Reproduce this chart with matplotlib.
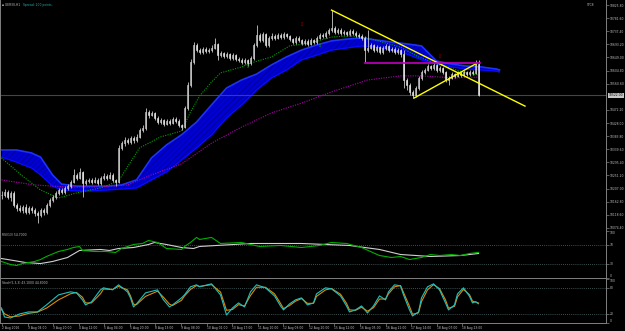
import numpy as np
import matplotlib.pyplot as plt
import matplotlib.transforms as mtransforms

# GER30 H1 bars (open of each bar = previous close)
closes = [10185, 10195, 10178, 10192, 10151, 10141, 10134, 10145, 10128, 10141,
          10134, 10124, 10118, 10134, 10128, 10151, 10168, 10178, 10192, 10202,
          10195, 10209, 10215, 10229, 10253, 10242, 10263, 10226, 10232, 10236,
          10229, 10236, 10226, 10242, 10249, 10242, 10253, 10236, 10229, 10344,
          10360, 10371, 10364, 10377, 10371, 10381, 10404, 10411, 10465, 10455,
          10462, 10445, 10431, 10438, 10425, 10435, 10428, 10441, 10435, 10421,
          10414, 10479, 10556, 10634, 10691, 10674, 10668, 10678, 10671, 10674,
          10681, 10695, 10657, 10664, 10654, 10661, 10647, 10657, 10644, 10641,
          10634, 10641, 10630, 10647, 10691, 10725, 10708, 10728, 10691, 10715,
          10722, 10715, 10725, 10718, 10728, 10722, 10711, 10701, 10715, 10708,
          10698, 10705, 10695, 10708, 10701, 10715, 10725, 10722, 10732, 10742,
          10749, 10735, 10742, 10732, 10735, 10728, 10738, 10732, 10725, 10722,
          10715, 10674, 10681, 10691, 10674, 10684, 10668, 10681, 10688, 10674,
          10678, 10668, 10674, 10661, 10573, 10556, 10533, 10522, 10546, 10580,
          10600, 10607, 10620, 10614, 10624, 10607, 10614, 10600, 10573, 10580,
          10593, 10587, 10597, 10590, 10600, 10593, 10600, 10597, 10627, 10522]
highs = [10198, 10205, 10201, 10199, 10197, 10158, 10150, 10152, 10154, 10149,
         10147, 10140, 10131, 10140, 10142, 10158, 10175, 10186, 10199, 10210,
         10209, 10216, 10222, 10236, 10272, 10260, 10276, 10266, 10240, 10244,
         10242, 10245, 10241, 10250, 10258, 10255, 10262, 10258, 10240, 10354,
         10368, 10380, 10377, 10385, 10383, 10390, 10412, 10420, 10479, 10472,
         10470, 10466, 10450, 10446, 10442, 10441, 10440, 10448, 10447, 10440,
         10426, 10486, 10565, 10644, 10701, 10698, 10681, 10686, 10684, 10682,
         10690, 10715, 10699, 10672, 10669, 10668, 10665, 10663, 10661, 10650,
         10646, 10648, 10645, 10654, 10698, 10759, 10730, 10736, 10732, 10722,
         10730, 10727, 10732, 10731, 10735, 10733, 10726, 10715, 10722, 10720,
         10713, 10712, 10710, 10716, 10713, 10722, 10733, 10730, 10740, 10750,
         10809, 10755, 10748, 10747, 10742, 10740, 10745, 10744, 10737, 10731,
         10728, 10720, 10742, 10698, 10696, 10690, 10688, 10687, 10695, 10692,
         10685, 10683, 10681, 10678, 10674, 10580, 10562, 10540, 10552, 10588,
         10608, 10615, 10628, 10625, 10632, 10628, 10621, 10618, 10604, 10586,
         10600, 10598, 10604, 10602, 10607, 10605, 10607, 10606, 10641, 10641]
lows = [10172, 10180, 10170, 10165, 10144, 10131, 10127, 10125, 10120, 10122,
        10126, 10115, 10091, 10110, 10118, 10121, 10145, 10160, 10172, 10186,
        10188, 10190, 10203, 10210, 10224, 10236, 10238, 10178, 10219, 10225,
        10221, 10224, 10218, 10220, 10236, 10235, 10238, 10230, 10215, 10226,
        10338, 10352, 10356, 10358, 10362, 10365, 10376, 10398, 10406, 10446,
        10450, 10438, 10424, 10425, 10417, 10420, 10421, 10424, 10428, 10414,
        10404, 10410, 10472, 10550, 10628, 10666, 10660, 10662, 10663, 10665,
        10668, 10676, 10641, 10650, 10646, 10648, 10640, 10641, 10637, 10634,
        10626, 10628, 10620, 10624, 10642, 10686, 10700, 10702, 10684, 10686,
        10709, 10708, 10710, 10711, 10712, 10714, 10704, 10694, 10696, 10700,
        10690, 10692, 10687, 10690, 10694, 10696, 10710, 10714, 10716, 10726,
        10736, 10728, 10729, 10725, 10726, 10721, 10722, 10725, 10718, 10715,
        10708, 10634, 10668, 10676, 10666, 10667, 10660, 10662, 10675, 10666,
        10668, 10660, 10661, 10652, 10546, 10540, 10522, 10512, 10515, 10540,
        10574, 10594, 10602, 10606, 10608, 10600, 10601, 10592, 10565, 10556,
        10575, 10580, 10582, 10584, 10585, 10587, 10588, 10590, 10592, 10518]

# blue ribbon edges (projected a few bars ahead of price)
band_idx = [0, 5, 10, 13, 17, 20, 25, 30, 35, 40, 45, 50, 55, 60, 65, 70, 75, 80,
            85, 90, 95, 100, 105, 110, 115, 120, 125, 130, 135, 140, 145, 150, 155, 160, 165, 166]
band_top = [10337, 10337, 10327, 10313, 10253, 10222, 10215, 10215, 10215, 10219,
            10236, 10310, 10354, 10388, 10431, 10489, 10546, 10573, 10593, 10624,
            10651, 10674, 10691, 10705, 10711, 10715, 10708, 10701, 10695, 10688,
            10637, 10627, 10620, 10617, 10610, 10607]
band_bot = [10313, 10296, 10276, 10253, 10215, 10202, 10199, 10199, 10202, 10205,
            10209, 10236, 10263, 10303, 10344, 10388, 10445, 10489, 10539, 10580,
            10607, 10641, 10657, 10674, 10681, 10688, 10684, 10674, 10661, 10641,
            10627, 10617, 10610, 10607, 10603, 10600]

fast_ma_idx = [0, 7, 13, 19, 25, 33, 39, 42, 46, 53, 60, 63, 66, 70, 73, 80, 83, 90,
               96, 103, 110, 116, 122, 133, 139, 146, 155, 159]
fast_ma = [10310, 10249, 10202, 10175, 10192, 10209, 10232, 10280, 10344, 10381,
           10401, 10465, 10519, 10566, 10597, 10617, 10630, 10651, 10688, 10698,
           10718, 10722, 10715, 10684, 10651, 10624, 10597, 10590]
slow_ma_idx = [0, 11, 22, 33, 42, 50, 60, 70, 80, 90, 100, 110, 116, 122, 133, 140, 151, 159]
slow_ma = [10236, 10219, 10212, 10212, 10219, 10253, 10290, 10360, 10414, 10462,
           10495, 10533, 10553, 10573, 10587, 10587, 10580, 10583]

# drawn objects
trend_a_idx = [110, 174.5]
trend_a_px = [10809, 10485]
trend_b_idx = [137.5, 158]
trend_b_px = [10512, 10627]
level_idx = [121, 159.5]
level_px = 10630
sell_idx = [100, 146]
sell_px = [10759, 10651]
buy_idx = [82, 106]
buy_px = [10617, 10691]

# RSI(13) and its signal
rsi_idx = [0, 3, 5, 7, 11, 13, 15, 19, 22, 24, 26, 27, 31, 35, 38, 40, 44, 47, 49, 52,
           55, 60, 61, 63, 65, 66, 70, 73, 80, 86, 93, 100, 106, 110, 115, 120, 123, 126,
           130, 133, 136, 140, 143, 146, 150, 153, 156, 159]
rsi = [34.8, 28.3, 26.1, 30.4, 34.8, 39.1, 45.7, 56.5, 60.9, 65.2,
       67.4, 58.7, 56.5, 56.5, 54.3, 63.0, 71.7, 73.9, 80.4, 76.1,
       63.0, 60.9, 67.4, 76.1, 87.0, 82.6, 87.0, 73.9, 76.1, 67.4,
       69.6, 65.2, 69.6, 76.1, 73.9, 65.2, 56.5, 47.8, 43.5, 45.7,
       39.1, 43.5, 50.0, 47.8, 50.0, 47.8, 52.2, 54.7]
rsi_sig_idx = [0, 4, 8, 13, 17, 22, 26, 33, 36, 39, 44, 49, 51, 55, 60, 64, 66, 83,
               100, 116, 126, 133, 143, 153, 159]
rsi_sig = [41.3, 37.0, 32.6, 30.4, 34.8, 43.5, 58.7, 60.9, 58.7, 63.0,
           65.2, 71.7, 76.1, 71.7, 65.2, 63.0, 67.4, 73.9, 73.9, 69.6,
           60.9, 50.0, 45.7, 47.8, 52.2]

# Stochastic(5,3,3)
stoch_idx = [0, 1, 3, 6, 9, 12, 15, 19, 23, 25, 27, 28, 30, 33, 34, 37, 39, 42, 43, 44,
             45, 48, 52, 54, 56, 57, 60, 61, 63, 65, 66, 70, 73, 75, 77, 79, 81, 83, 85, 88,
             91, 93, 94, 96, 98, 100, 102, 104, 105, 108, 110, 113, 115, 116, 118, 120, 122,
             124, 126, 128, 129, 131, 133, 134, 136, 137, 139, 140, 142, 144, 146, 148, 149,
             151, 152, 154, 156, 157, 158, 159]
stoch_k = [33.5, 12.7, 10.4, 19.6, 24.3, 24.3, 40.4, 63.5, 70.5, 68.1,
           52.0, 40.4, 47.4, 75.1, 79.7, 75.1, 86.6, 70.5, 56.6, 35.8,
           42.7, 68.1, 75.1, 52.0, 35.8, 40.4, 56.6, 63.5, 82.0, 86.6,
           82.0, 88.9, 63.5, 17.3, 33.5, 45.0, 35.8, 70.5, 86.6, 79.7,
           61.2, 38.1, 28.9, 42.7, 52.0, 56.6, 40.4, 45.0, 65.8, 79.7,
           77.4, 61.2, 38.1, 24.3, 28.9, 38.1, 21.9, 38.1, 61.2, 52.0,
           70.5, 86.6, 84.3, 63.5, 28.9, 15.0, 24.3, 56.6, 82.0, 88.9,
           75.1, 45.0, 28.9, 40.4, 65.8, 79.7, 60.0, 45.0, 48.0, 43.1]
stoch_d = [30.0, 20.0, 13.0, 15.0, 21.0, 24.0, 33.0, 52.0, 66.0, 69.0,
           58.0, 45.0, 45.0, 66.0, 77.0, 76.0, 83.0, 75.0, 61.0, 42.0,
           41.0, 60.0, 72.0, 58.0, 42.0, 39.0, 51.0, 61.0, 76.0, 85.0,
           83.0, 87.0, 70.0, 28.0, 30.0, 41.0, 38.0, 62.0, 81.0, 81.0,
           66.0, 44.0, 32.0, 39.0, 49.0, 55.0, 44.0, 44.0, 60.0, 75.0,
           78.0, 65.0, 44.0, 29.0, 28.0, 35.0, 26.0, 34.0, 54.0, 54.0,
           66.0, 82.0, 85.0, 69.0, 37.0, 19.0, 22.0, 48.0, 75.0, 87.0,
           78.0, 52.0, 33.0, 37.0, 59.0, 76.0, 64.0, 49.0, 47.0, 44.8]

# price scale labels (the one under the bid box is hidden by it)
price_ticks = [10825.8, 10781.6, 10737.4, 10693.2, 10649.0, 10604.8, 10560.6, 10472.2,
               10428.0, 10383.8, 10339.6, 10295.4, 10251.2, 10207.0, 10162.8, 10118.6, 10074.4]
time_labels = ['2 Aug 2016', '3 Aug 04:00', '3 Aug 20:00', '4 Aug 12:00', '5 Aug 04:00',
               '5 Aug 20:00', '8 Aug 13:00', '9 Aug 08:00', '10 Aug 01:00', '10 Aug 17:00',
               '11 Aug 10:00', '12 Aug 03:00', '12 Aug 20:00', '15 Aug 12:00', '16 Aug 05:00',
               '16 Aug 21:00', '17 Aug 14:00', '18 Aug 07:00', '18 Aug 23:00']

W, H = 625, 331
AX_COL = '#808080'
TXT = '#c0c0c0'
FS = 2.2

plt.rcParams['hatch.linewidth'] = 0.5

fig = plt.figure(figsize=(W / 100, H / 100), dpi=100, facecolor='black')


def px_axes(top, bottom, right=606):
    return fig.add_axes([0, 1 - bottom / H, right / W, (bottom - top) / H], facecolor='black')


ax = px_axes(0, 230.5)
ax_rsi = px_axes(231, 278)
ax_sto = px_axes(279, 322.5)

for a in (ax, ax_rsi, ax_sto):
    a.set_xlim(-0.5, 201.5)
    for s in a.spines.values():
        s.set_color(AX_COL)
        s.set_linewidth(0.7)
    a.spines['top'].set_visible(False)
    a.yaxis.tick_right()
    a.tick_params(axis='y', direction='out', length=2, width=0.5, color=AX_COL,
                  labelsize=FS, labelcolor=TXT, pad=0.8)
    a.tick_params(axis='x', bottom=False, labelbottom=False)

# ---- main price panel ----
ax.set_ylim(10065.3, 10843)
ax.set_yticks(price_ticks)
ax.set_yticklabels([f'{p:.2f}' for p in price_ticks])

ax.fill_between(band_idx, band_bot, band_top, color='#0000d2', lw=0, zorder=1)
ax.fill_between(band_idx, band_bot, band_top, facecolor='none', edgecolor='#00008c',
                hatch='//////', lw=0, zorder=1)
ax.plot(band_idx, band_top, color='#1e32ff', lw=1.2, zorder=1)
ax.plot(band_idx, band_bot, color='#0a0aff', lw=0.9, zorder=1)

ax.plot(fast_ma_idx, fast_ma, color='#00a000', lw=0.8, ls=(0, (1, 1.2)), zorder=2)
ax.plot(slow_ma_idx, slow_ma, color='#b000b0', lw=0.8, ls=(0, (1, 1.2)), zorder=2)

ax.axhline(closes[-1], color='#2f4f4f', lw=0.8, zorder=1.5)

idx = np.arange(len(closes))
c = np.array(closes, float)
o = np.r_[c[0], c[:-1]]
up = c >= o
ax.vlines(idx, lows, highs, color='#c8c8c8', lw=0.6, zorder=3)
ax.bar(idx[up], (c - o)[up], bottom=o[up], width=0.45, color='#505050',
       edgecolor='#f0f0f0', lw=0.4, zorder=3)
ax.bar(idx[~up], (c - o)[~up], bottom=o[~up], width=0.45, color='#e8e8e8',
       edgecolor='#e8e8e8', lw=0.4, zorder=3)

ax.plot(trend_a_idx, trend_a_px, color='#ffff00', lw=1.0, zorder=4)
ax.plot(trend_b_idx, trend_b_px, color='#ffff00', lw=1.0, zorder=4)
ax.plot(level_idx, [level_px, level_px], color='#c000c0', lw=1.2, zorder=4)

for i, p in zip(sell_idx, sell_px):
    ax.text(i, p, '\u21e9', color='#c00000', fontsize=3.5, ha='center', va='center', zorder=5)
for i, p in zip(buy_idx, buy_px):
    ax.text(i, p, '\u21e7', color='#00c000', fontsize=3.5, ha='center', va='center', zorder=5)

# current price box on the scale
trans = mtransforms.blended_transform_factory(ax.transAxes, ax.transData)
ax.text(1.004, closes[-1], f'{closes[-1]:.2f}', transform=trans, fontsize=FS, color='black',
        ha='left', va='center', clip_on=False, zorder=6,
        bbox=dict(boxstyle='square,pad=0.15', fc='#c8c8c8', ec='none'))

ax.text(0.004, 0.985, '\u25aa GER30,H1', transform=ax.transAxes, fontsize=FS, color=TXT,
        ha='left', va='top')
ax.text(0.038, 0.985, 'Spread: 200 points.', transform=ax.transAxes, fontsize=FS,
        color='#20b2aa', ha='left', va='top')
ax.text(0.968, 0.985, 'STC8', transform=ax.transAxes, fontsize=FS, color=TXT,
        ha='left', va='top')

# ---- RSI panel ----
ax_rsi.set_ylim(-1, 101)
ax_rsi.set_yticks([0, 30, 70, 100])
ax_rsi.set_yticklabels(['0', '30', '70', '100'])
for lvl in (30, 70):
    ax_rsi.axhline(lvl, color='#4f6a6a', lw=0.6, ls=(0, (1, 1.5)))
ax_rsi.plot(rsi_sig_idx, rsi_sig, color='#d0d0d0', lw=0.8)
ax_rsi.plot(rsi_idx, rsi, color='#00b000', lw=0.8)
ax_rsi.text(0.004, 0.96, f'RSI(13) {rsi[-1]:.4f}', transform=ax_rsi.transAxes,
            fontsize=FS, color=TXT, ha='left', va='top')

# ---- Stochastic panel ----
ax_sto.set_ylim(0, 100)
ax_sto.set_yticks([0, 20, 80, 100])
ax_sto.set_yticklabels(['0', '20', '80', '100'])
for lab, va in zip(ax_sto.get_yticklabels(), ['bottom', 'center', 'center', 'top']):
    lab.set_verticalalignment(va)
for lab, va in zip(ax_rsi.get_yticklabels(), ['bottom', 'center', 'center', 'top']):
    lab.set_verticalalignment(va)
for lvl in (20, 80):
    ax_sto.axhline(lvl, color='#4f6a6a', lw=0.6, ls=(0, (1, 1.5)))
ax_sto.plot(stoch_idx, stoch_d, color='#e08a00', lw=0.8)
ax_sto.plot(stoch_idx, stoch_k, color='#20c0c0', lw=0.8)
ax_sto.text(0.004, 0.96, f'Stoch(5,3,3) {stoch_k[-1]:.4f} {stoch_d[-1]:.4f}',
            transform=ax_sto.transAxes, fontsize=FS, color=TXT, ha='left', va='top')

# time scale
tpos = np.arange(len(time_labels)) * 8.52 + 0.2
ax_sto.set_xticks(tpos)
ax_sto.set_xticklabels(time_labels)
ax_sto.tick_params(axis='x', bottom=True, labelbottom=True, direction='out', length=2,
                   width=0.5, color=AX_COL, labelsize=FS, labelcolor=TXT, pad=0.6)
for lab in ax_sto.get_xticklabels():
    lab.set_horizontalalignment('left')

fig.savefig('out.png', dpi=100, facecolor='black')
